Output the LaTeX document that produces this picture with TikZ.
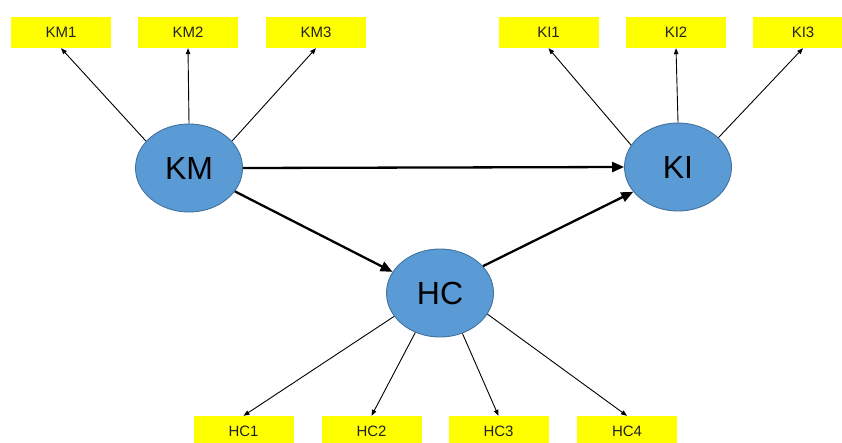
\documentclass[tikz,border=0pt]{standalone}
\usepackage{fontspec}
\setmainfont{Liberation Sans}
\usetikzlibrary{shapes.geometric,arrows.meta}
\definecolor{ybox}{HTML}{FFFF00}
\definecolor{efill}{HTML}{5B9BD5}
\definecolor{edraw}{HTML}{41719C}
\definecolor{txt}{HTML}{222222}
\tikzset{
  ind/.style={fill=ybox, minimum width=100pt, minimum height=31pt, inner sep=0pt, text=txt, font=\fontsize{15}{18}\selectfont},
  lat/.style={ellipse, fill=efill, draw=edraw, line width=0.9pt, minimum width=107pt, minimum height=88pt, inner sep=0pt, text=black, font=\fontsize{32}{38}\selectfont},
  thin/.style={line width=0.9pt, -{Triangle[length=6pt,width=4.5pt]}},
  thick/.style={line width=2.3pt, -{Triangle[length=12pt,width=10pt]}}
}
\begin{document}
\begin{tikzpicture}[x=1pt,y=-1pt]
\useasboundingbox (0,0) rectangle (842,442);
\clip (0,0) rectangle (842,442);
\fill[white] (0,0) rectangle (842,442);
% indicator boxes
\node[ind] (KM1) at (61,32.5) {KM1};
\node[ind] (KM2) at (188,32.5) {KM2};
\node[ind] (KM3) at (316,32.5) {KM3};
\node[ind] (KI1) at (548.5,32.5) {KI1};
\node[ind] (KI2) at (676,32.5) {KI2};
\node[ind] (KI3) at (803,32.5) {KI3};
\node[ind] (HC1) at (243.5,431.5) {HC1};
\node[ind] (HC2) at (371.5,431.5) {HC2};
\node[ind] (HC3) at (498.5,431.5) {HC3};
\node[ind] (HC4) at (627,431.5) {HC4};
% latent variables
\node[lat] (KM) at (189,168) {KM};
\node[lat] (KI) at (678,167) {KI};
\node[lat] (HC) at (440,293) {HC};
% thin arrows
\draw[thin] (KM.148) -- (KM1.south);
\draw[thin] (KM.north) -- (KM2.south);
\draw[thin] (KM.32) -- (KM3.south);
\draw[thin] (KI.155) -- (KI1.south);
\draw[thin] (KI.north) -- (KI2.south);
\draw[thin] (KI.36) -- (KI3.south);
\draw[thin] (HC.207) -- (HC1.north);
\draw[thin] (HC.238) -- (HC2.north);
\draw[thin] (HC.299) -- (HC3.north);
\draw[thin] (HC.336) -- (HC4.north);
% structural paths
\draw[thick] (KM.east) -- (KI.west);
\draw[thick] (KM.333) -- (HC.156);
\draw[thick] (HC.32) -- (KI.209);
\end{tikzpicture}
\end{document}
